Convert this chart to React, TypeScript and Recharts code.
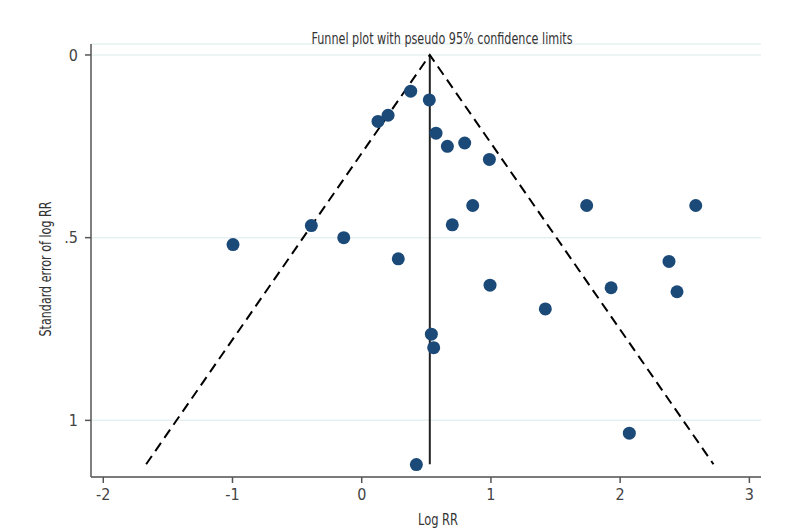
import { CartesianGrid, ReferenceLine, Scatter, ScatterChart, XAxis, YAxis } from "recharts"

// log risk ratio of each study
const logRR = [
  -0.996, -0.39, -0.139, 0.126, 0.204, 0.283, 0.379, 0.523, 0.575, 0.663, 0.797, 0.988,
  0.859, 0.701, 1.741, 2.585, 2.378, 0.993, 1.93, 2.44, 1.421, 0.539, 0.557, 2.071, 0.423,
]
// standard error of log RR, same order
const seLogRR = [
  0.519, 0.467, 0.5, 0.182, 0.165, 0.558, 0.099, 0.123, 0.214, 0.25, 0.241, 0.286,
  0.412, 0.465, 0.412, 0.412, 0.565, 0.63, 0.637, 0.648, 0.695, 0.764, 0.801, 1.035, 1.121,
]
const pooledLogRR = 0.527
const maxSe = 1.12
const xTicks = [-2, -1, 0, 1, 2, 3]
const yTicks = [0, 0.5, 1]

const studies = logRR.map((x, i) => ({ x, y: seLogRR[i] }))
const funnel = [
  { x: pooledLogRR - 1.96 * maxSe, y: maxSe },
  { x: pooledLogRR, y: 0 },
  { x: pooledLogRR + 1.96 * maxSe, y: maxSe },
]

const font = "'Liberation Sans Narrow', 'DejaVu Sans Condensed', 'Roboto', sans-serif"
const axisColor = "#555555"

export default function App() {
  return (
    <div style={{ position: "absolute", left: 0, top: 0, background: "#fff" }}>
      <ScatterChart width={799} height={532} margin={{ top: 44, right: 38, bottom: 0, left: 0 }}>
        <CartesianGrid vertical={false} stroke="#e6f0f1" strokeWidth={1.5} />
        <XAxis
          type="number"
          dataKey="x"
          domain={[-2.095, 3.09]}
          allowDataOverflow
          ticks={xTicks}
          height={55}
          stroke={axisColor}
          strokeWidth={1.5}
          tickSize={6}
          tickMargin={6}
          tick={{ fill: "#444", fontSize: 16, fontFamily: font }}
        />
        <YAxis
          type="number"
          dataKey="y"
          domain={[-0.03, 1.155]}
          allowDataOverflow
          reversed
          ticks={yTicks}
          width={91}
          stroke={axisColor}
          strokeWidth={1.5}
          tickSize={6}
          tickMargin={7}
          tickFormatter={(v: number) => (v === 0.5 ? ".5" : String(v))}
          tick={{ fill: "#444", fontSize: 16, fontFamily: font }}
        />
        <ReferenceLine
          segment={[
            { x: pooledLogRR, y: 0 },
            { x: pooledLogRR, y: maxSe },
          ]}
          stroke="#222"
          strokeWidth={2}
        />
        <Scatter
          data={funnel}
          line={{ stroke: "#000", strokeWidth: 2, strokeDasharray: "10 6" }}
          shape={() => <g />}
          isAnimationActive={false}
        />
        <Scatter
          data={studies}
          isAnimationActive={false}
          shape={(p: any) => <circle cx={p.cx} cy={p.cy} r={6.5} fill="#1b4a78" />}
        />
        <text
          x={442}
          y={44}
          textAnchor="middle"
          fontSize={16}
          fontFamily={font}
          fill="#333"
          textLength={261}
          lengthAdjust="spacingAndGlyphs"
        >
          Funnel plot with pseudo 95% confidence limits
        </text>
        <text
          x={438}
          y={525}
          textAnchor="middle"
          fontSize={16}
          fontFamily={font}
          fill="#333"
          textLength={40}
          lengthAdjust="spacingAndGlyphs"
        >
          Log RR
        </text>
        <text
          x={51}
          y={269}
          textAnchor="middle"
          fontSize={16}
          fontFamily={font}
          fill="#333"
          textLength={135}
          lengthAdjust="spacingAndGlyphs"
          transform="rotate(-90 51 269)"
        >
          Standard error of log RR
        </text>
      </ScatterChart>
    </div>
  )
}
